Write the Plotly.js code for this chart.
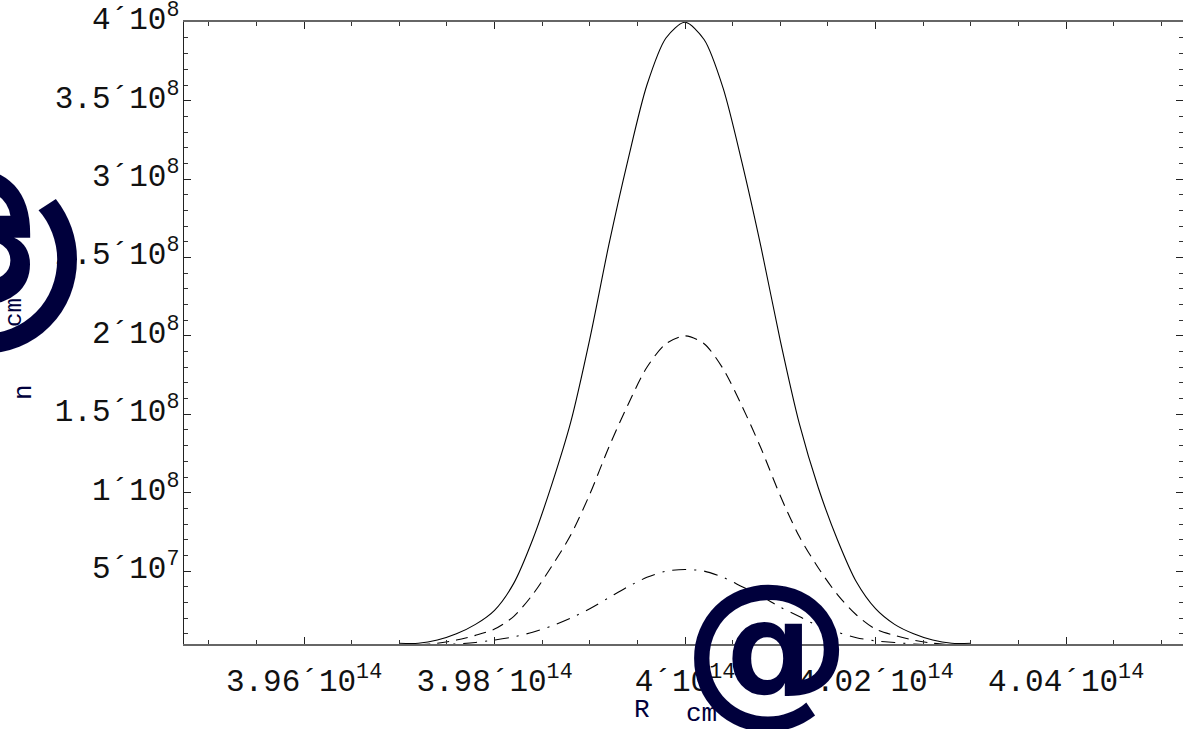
<!DOCTYPE html>
<html>
<head>
<meta charset="utf-8">
<script src="https://cdn.plot.ly/plotly-3.0.1.min.js"></script>
<style>html,body{margin:0;padding:0;background:#fff;}#chart{width:1183px;height:729px;}</style>
</head>
<body>
<div id="chart"></div>
<script>
// R positions (cm)
const rValues = [3.970e14,3.972e14,3.974e14,3.976e14,3.978e14,3.980e14,3.982e14,3.984e14,3.986e14,3.988e14,
  3.990e14,3.992e14,3.994e14,3.996e14,3.998e14,4.000e14,4.002e14,4.004e14,4.006e14,4.008e14,
  4.010e14,4.012e14,4.014e14,4.016e14,4.018e14,4.020e14,4.022e14,4.024e14,4.026e14,4.028e14,4.030e14];
// densities n (cm^-3), in units of 1e8
const nSolid = [0.04,0.04,0.06,0.10,0.16,0.25,0.42,0.70,1.05,1.45,
  1.98,2.58,3.12,3.60,3.90,4.00,3.89,3.58,3.10,2.56,
  1.97,1.44,1.03,0.70,0.43,0.26,0.16,0.10,0.06,0.04,0.04];
const nDashed = [0.03,0.03,0.04,0.06,0.09,0.13,0.21,0.35,0.53,0.73,
  0.99,1.29,1.56,1.80,1.95,2.00,1.95,1.79,1.55,1.28,
  0.98,0.72,0.52,0.35,0.22,0.13,0.09,0.06,0.04,0.03,0.03];
const nDashDot = [0.03,0.03,0.03,0.035,0.045,0.06,0.08,0.11,0.15,0.20,
  0.26,0.33,0.40,0.46,0.50,0.51,0.50,0.46,0.40,0.34,
  0.27,0.21,0.15,0.11,0.075,0.055,0.045,0.035,0.03,0.03,0.03];

const xTickVals = [3.96e14,3.98e14,4.00e14,4.02e14,4.04e14];
const xTickText = ['3.96´10<sup>14</sup>','3.98´10<sup>14</sup>','4´10<sup>14</sup>','4.02´10<sup>14</sup>','4.04´10<sup>14</sup>'];
const yTickVals = [5e7,1e8,1.5e8,2e8,2.5e8,3e8,3.5e8,4e8];
const yTickText = ['5´10<sup>7</sup>','1´10<sup>8</sup>','1.5´10<sup>8</sup>','2´10<sup>8</sup>','2.5´10<sup>8</sup>','3´10<sup>8</sup>','3.5´10<sup>8</sup>','4´10<sup>8</sup>'];

const scale = v => v.map(a => a*1e8);
const lineBase = {color:'#000', width:1.1, shape:'spline', smoothing:0.8};
const traces = [
  {x: rValues, y: scale(nSolid), mode:'lines', line:Object.assign({}, lineBase), showlegend:false, hoverinfo:'skip'},
  {x: rValues, y: scale(nDashed), mode:'lines', line:Object.assign({dash:'12px,7px'}, lineBase), showlegend:false, hoverinfo:'skip'},
  {x: rValues, y: scale(nDashDot), mode:'lines', line:Object.assign({dash:'14px,8px,2px,8px'}, lineBase), showlegend:false, hoverinfo:'skip'}
];

const mono = 'Liberation Mono, Courier New, monospace';
const tickFont = {family:mono, size:31, color:'#111'};
const navy = '#00003c';
const layout = {
  width:1183, height:729,
  margin:{l:184, r:0, t:22, b:85},
  paper_bgcolor:'#fff', plot_bgcolor:'#fff',
  showlegend:false,
  xaxis:{
    range:[3.9474e14, 4.05228e14], showgrid:false, zeroline:false,
    tickmode:'array', tickvals:xTickVals, ticktext:xTickText,
    ticks:'inside', ticklen:7, tickwidth:1, tickcolor:'#222',
    minor:{tickmode:'linear', tick0:0, dtick:5e11, ticks:'inside', ticklen:4, tickwidth:1, tickcolor:'#333', showgrid:false},
    showline:true, linecolor:'#666', linewidth:1.6, mirror:'allticks',
    tickfont:tickFont, ticklabelstandoff:8
  },
  yaxis:{
    range:[3.5e6, 4.002e8], showgrid:false, zeroline:false,
    tickmode:'array', tickvals:yTickVals, ticktext:yTickText,
    ticks:'inside', ticklen:7, tickwidth:1, tickcolor:'#222',
    minor:{tickmode:'linear', tick0:0, dtick:1e7, ticks:'inside', ticklen:4, tickwidth:1, tickcolor:'#333', showgrid:false},
    showline:true, linecolor:'#222', linewidth:1.4, mirror:'allticks',
    tickfont:tickFont, ticklabelstandoff:-3, ticklabelshift:-4, ticklabeloverflow:'allow'
  },
  annotations:[
    {xref:'paper', yref:'paper', x:(632-184)/999, y:(729-85-710)/622, xanchor:'left', yanchor:'middle',
     text:'R', showarrow:false, font:{family:mono, size:26, color:navy}},
    {xref:'paper', yref:'paper', x:(684-184)/999, y:(729-85-714)/622, xanchor:'left', yanchor:'middle',
     text:'cm', showarrow:false, font:{family:mono, size:26, color:navy}},
    {xref:'paper', yref:'paper', x:(767-184)/999, y:(644-645)/622, xanchor:'center', yanchor:'middle',
     text:'@', showarrow:false, font:{family:'DejaVu Sans', size:168, weight:'bold', color:navy}},
    {xref:'paper', yref:'paper', x:(24-184)/999, y:(644-392)/622, xanchor:'center', yanchor:'middle',
     text:'n', textangle:-90, showarrow:false, font:{family:mono, size:26, color:navy}},
    {xref:'paper', yref:'paper', x:(12-184)/999, y:(644-308)/622, xanchor:'center', yanchor:'middle',
     text:'cm<sup>3</sup>', textangle:-90, showarrow:false, font:{family:mono, size:24, color:navy}},
    {xref:'paper', yref:'paper', x:(-36-184)/999, y:(644-261)/622, xanchor:'center', yanchor:'middle',
     text:'@', textangle:-90, showarrow:false, font:{family:'DejaVu Sans', size:215, weight:'bold', color:navy}}
  ]
};
Plotly.newPlot('chart', traces, layout, {staticPlot:true, displayModeBar:false});
</script>
</body>
</html>
